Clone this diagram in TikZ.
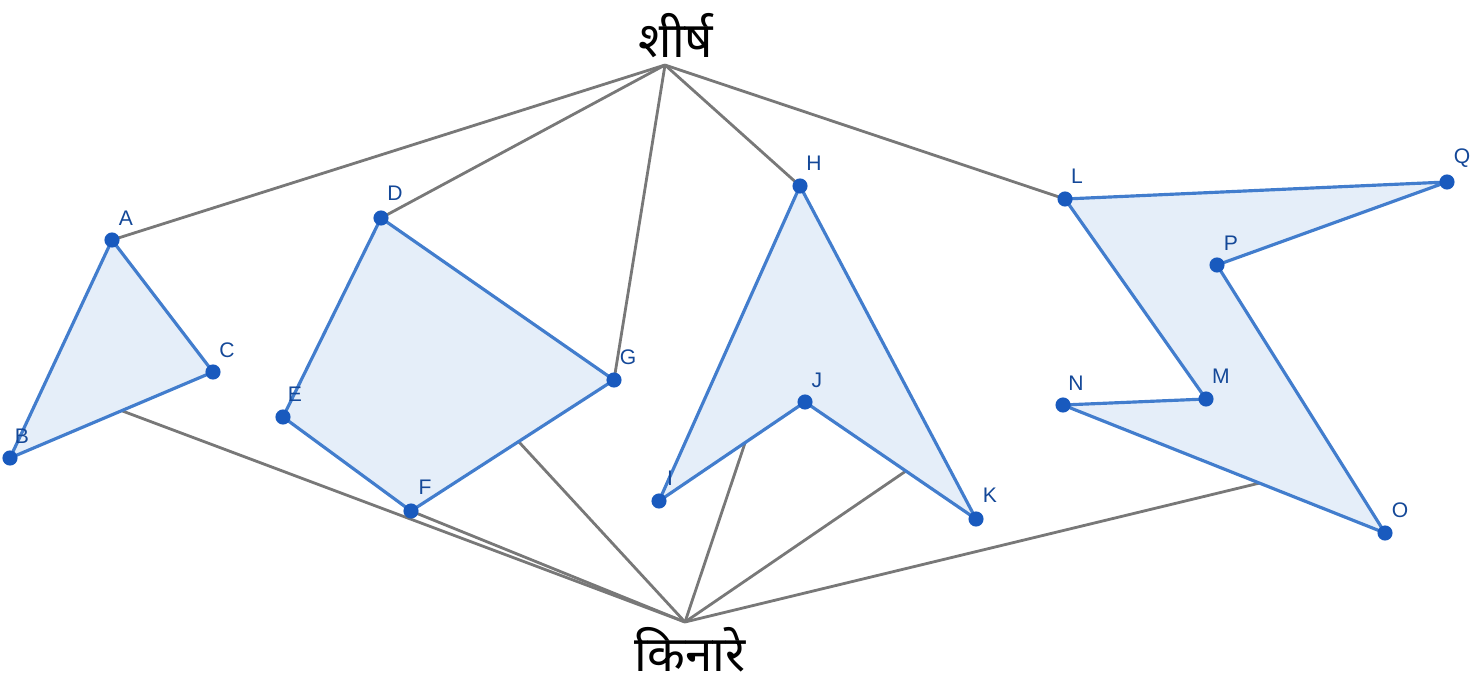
\documentclass[tikz,border=0pt]{standalone}
\usepackage{fontspec}
\usetikzlibrary{calc}
\setsansfont{Liberation Sans}
\newfontfamily\devfont[Script=Devanagari]{Noto Sans}
\definecolor{edgeblue}{RGB}{66,125,205}
\definecolor{dotblue}{RGB}{25,90,190}
\definecolor{fillblue}{RGB}{229,238,249}
\definecolor{linkgray}{RGB}{120,120,120}
\tikzset{
  vtx/.style={circle,fill=dotblue,inner sep=0pt,minimum size=4.3pt},
  lbl/.style={font=\sffamily\fontsize{6}{6}\selectfont,text=dotblue!80!black},
  poly/.style={draw=edgeblue,fill=fillblue,line width=0.9pt,line join=round},
  link/.style={draw=linkgray,line width=0.8pt},
  title/.style={font=\devfont\fontsize{14}{14}\selectfont}
}
\begin{document}
\begin{tikzpicture}[x=0.01cm,y=-0.01cm]
\useasboundingbox (0,0) rectangle (1479,676);
\coordinate (A) at (112,240); \coordinate (B) at (10,458); \coordinate (C) at (213,372);
\coordinate (D) at (381,218); \coordinate (E) at (283,417); \coordinate (F) at (411,511); \coordinate (G) at (614,380);
\coordinate (H) at (800,186); \coordinate (I) at (659,501); \coordinate (J) at (805,402); \coordinate (K) at (976,519);
\coordinate (L) at (1065,199); \coordinate (Q) at (1447,182); \coordinate (P) at (1217,265); \coordinate (O) at (1385,533); \coordinate (N) at (1063,405); \coordinate (M) at (1206,399);
\node[title] (top) at (676,36) {शीर्ष};
\node[title] (bot) at (690,650) {किनारे};
\coordinate (tp) at (665,65); \coordinate (bp) at (685,622);
% links
\draw[link] (tp) -- (A); \draw[link] (tp) -- (D); \draw[link] (tp) -- (G);
\draw[link] (tp) -- (H); \draw[link] (tp) -- (L);
\draw[link] (bp) -- ($(B)!0.55!(C)$); \draw[link] (bp) -- (F);
\draw[link] (bp) -- ($(F)!0.53!(G)$); \draw[link] (bp) -- ($(I)!0.59!(J)$);
\draw[link] (bp) -- ($(J)!0.59!(K)$); \draw[link] (bp) -- ($(N)!0.61!(O)$);
% polygons
\draw[poly] (A) -- (B) -- (C) -- cycle;
\draw[poly] (D) -- (E) -- (F) -- (G) -- cycle;
\draw[poly] (H) -- (I) -- (J) -- (K) -- cycle;
\draw[poly] (L) -- (Q) -- (P) -- (O) -- (N) -- (M) -- cycle;
\foreach \p in {A,B,C,D,E,F,G,H,I,J,K,L,M,N,O,P,Q} \node[vtx] at (\p) {};
\foreach \p/\x/\y in {A/126/218,B/22/436,C/227/350,D/395/193,E/295/394,F/425/487,G/628/357,H/814/163,I/670/478,J/817/380,K/990/495,L/1077/176,Q/1462/158,P/1231/243,M/1221/376,N/1076/383,O/1400/510}
  \node[lbl] (l\p) at (\x,\y) {\p};
\end{tikzpicture}
\end{document}
